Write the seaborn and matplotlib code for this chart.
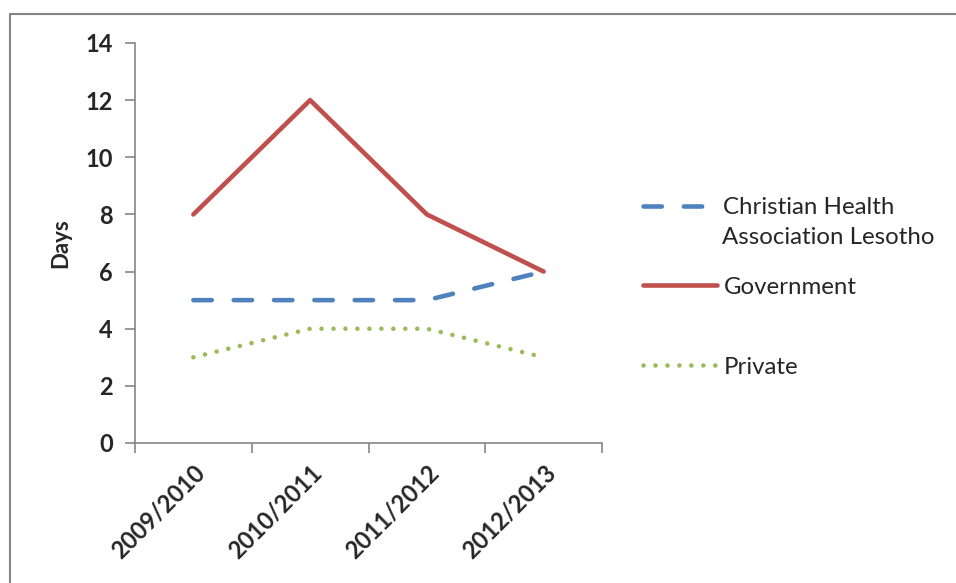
import numpy as np
import pandas as pd
import seaborn as sns
import matplotlib
matplotlib.use("Agg")
from matplotlib import pyplot as plt
from matplotlib.lines import Line2D

years = ["2009/2010", "2010/2011", "2011/2012", "2012/2013"]
chal = [5, 5, 5, 6]
government = [8, 12, 8, 6]
private = [3, 4, 4, 3]

sns.set_style("white")
plt.rcParams['font.family'] = ['Lato', 'DejaVu Sans']

fig = plt.figure(figsize=(9.56, 5.83), dpi=100)
ax = fig.add_axes([135/956, 1-443/583, 467/956, 400/583])

x = np.arange(len(years))
df = pd.DataFrame({"x": x, "chal": chal, "gov": government, "priv": private})

blue, red, green = "#4F81BD", "#C0504D", "#9BBB59"
lw = 3.3
dash_blue = (0, (4.0, 4.8))
dot_green = (0, (0.01, 2.6))

sns.lineplot(data=df, x="x", y="chal", ax=ax, color=blue, lw=lw,
             linestyle=dash_blue, dash_capstyle="round")
sns.lineplot(data=df, x="x", y="gov", ax=ax, color=red, lw=lw,
             solid_capstyle="round", solid_joinstyle="round")
sns.lineplot(data=df, x="x", y="priv", ax=ax, color=green, lw=lw,
             linestyle=dot_green, dash_capstyle="round")

ax.set_xlim(-0.5, 3.5)
ax.set_ylim(0, 14)
ax.set_yticks(range(0, 15, 2))
ax.set_xticks(np.arange(-0.5, 3.6, 1))
ax.set_xticklabels([])
ax.set_xticks(x, minor=True)
ax.set_xticklabels(years, minor=True, rotation=45, ha="right",
                   rotation_mode="anchor", fontsize=17, fontweight="bold")
ax.tick_params(axis="x", which="minor", length=0, pad=13)
ax.tick_params(axis="x", which="major", direction="out", length=7,
               color="#868686", width=1.2, bottom=True)
ax.tick_params(axis="y", direction="out", length=7, color="#868686",
               width=1.2, left=True, labelsize=17, pad=9)
for lab in ax.get_yticklabels():
    lab.set_fontweight("bold")

for s in ["top", "right"]:
    ax.spines[s].set_visible(False)
for s in ["left", "bottom"]:
    ax.spines[s].set_color("#868686")
    ax.spines[s].set_linewidth(1.2)

ax.set_xlabel("")
ax.set_ylabel("Days", fontsize=16, fontweight="bold", labelpad=10)

# legend: first line of the wrapped label sits next to the handle
handles = [Line2D([], [], color=blue, lw=lw, linestyle=dash_blue, dash_capstyle="round"),
           Line2D([], [], color=red, lw=lw, solid_capstyle="round"),
           Line2D([], [], color=green, lw=lw, linestyle=dot_green, dash_capstyle="round")]
fig.legend(handles, ["Christian Health", "Government", "Private"],
           loc="upper left", bbox_to_anchor=(643/956, 1-197/583),
           frameon=False, fontsize=17.3, handlelength=3.1, handletextpad=0.25,
           borderaxespad=0, borderpad=0, labelspacing=2.45)
fig.text(722/956, 1-238/583, "Association Lesotho", fontsize=17.3, va="center",
         ha="left")

# outer border of the chart area
fig.add_artist(Line2D([10/956, 10/956], [0, 1-14/583], color="#868686", lw=1.5))
fig.add_artist(Line2D([10/956, 1], [1-14/583, 1-14/583], color="#868686", lw=1.5))

fig.savefig("out.png", dpi=100)
